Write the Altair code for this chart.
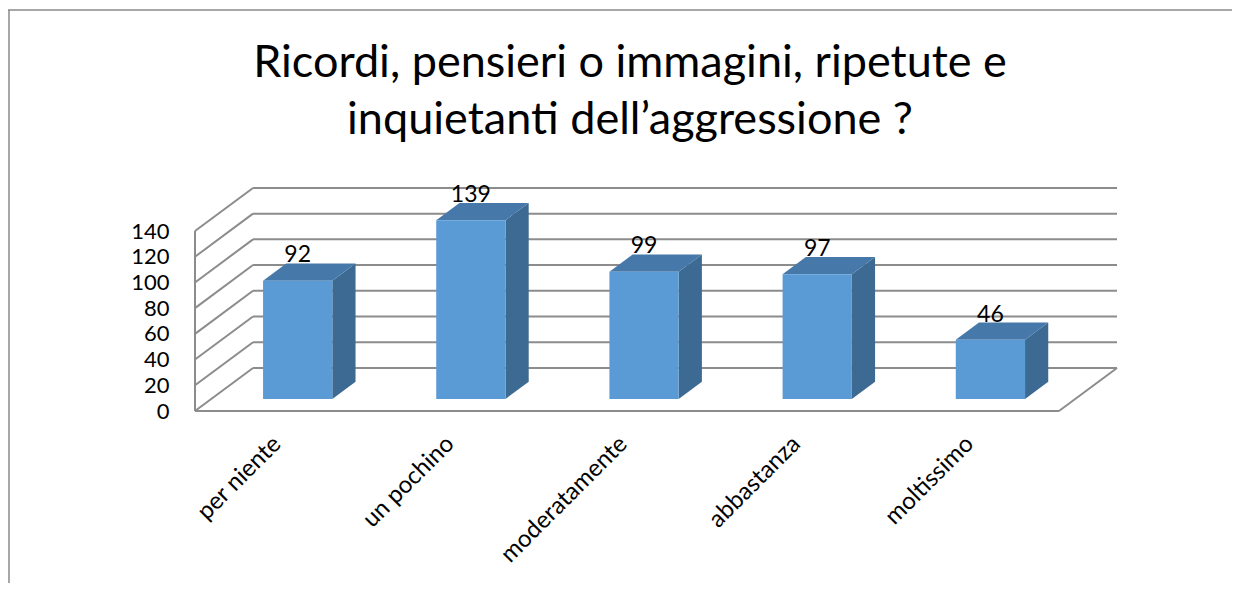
import altair as alt
import pandas as pd

# ---- data ----
categories = ["per niente", "un pochino", "moderatamente", "abbastanza", "moltissimo"]
values = [92, 139, 99, 97, 46]
y_ticks = [0, 20, 40, 60, 80, 100, 120, 140]
title_lines = ["Ricordi, pensieri o immagini, ripetute e", "inquietanti dell\u2019aggressione ?"]

# ---- 3D geometry (style parameters, in data units) ----
FONT = "Lato"
half_w = 0.2          # half width of bar front face (category units)
bar_lift = 9.4        # bar front face sits a bit behind the front plane
dep_x, dep_y = 0.134, 13.4   # depth of the bars
wall_x, wall_y = 0.335, 33.5 # depth of the back wall
x_lo, x_hi_front = -0.593, 4.396
x_hi_back = x_hi_front + wall_x

FRONT = "#5B9BD5"
SIDE = "#3D6A92"
TOP = "#4679A9"
GRID = "#8C8C8C"

idx = list(range(len(categories)))

front = pd.DataFrame({
    "cat": categories,
    "x": [i - half_w for i in idx],
    "x2": [i + half_w for i in idx],
    "y": [bar_lift] * len(idx),
    "y2": [v + bar_lift for v in values],
})

side_rows, top_rows = [], []
for i, (c, v) in enumerate(zip(categories, values)):
    side_rows.append({"cat": c, "x": i + half_w, "y": bar_lift, "y2": v + bar_lift})
    side_rows.append({"cat": c, "x": i + half_w + dep_x, "y": bar_lift + dep_y, "y2": v + bar_lift + dep_y})
    top_rows.append({"cat": c, "y": v + bar_lift, "x": i - half_w, "x2": i + half_w})
    top_rows.append({"cat": c, "y": v + bar_lift + dep_y, "x": i - half_w + dep_x, "x2": i + half_w + dep_x})
side = pd.DataFrame(side_rows)
top = pd.DataFrame(top_rows)

labels = pd.DataFrame({
    "cat": categories,
    "x": idx,
    "y": [v + bar_lift + dep_y for v in values],
    "label": [str(v) for v in values],
})

back_grid = pd.DataFrame({"x": [x_lo + wall_x] * len(y_ticks), "x2": [x_hi_back] * len(y_ticks),
                          "y": [t + wall_y for t in y_ticks]})
left_wall = pd.DataFrame({"x": [x_lo] * len(y_ticks), "x2": [x_lo + wall_x] * len(y_ticks),
                          "y": y_ticks, "y2": [t + wall_y for t in y_ticks]})
frame = pd.DataFrame({
    "x": [x_lo, x_lo, x_hi_front],
    "x2": [x_lo, x_hi_front, x_hi_back],
    "y": [0, 0, 0],
    "y2": [y_ticks[-1], 0, wall_y],
})

xs = alt.Scale(domain=[x_lo, x_hi_back], nice=False, zero=False)
ys = alt.Scale(domain=[0, 175], nice=False, zero=False)

label_expr = "[" + ",".join("'" + c + "'" for c in categories) + "][datum.value]"

x_axis = alt.Axis(
    values=idx, labelExpr=label_expr, labelAngle=315, labelAlign="right", labelBaseline="middle",
    labelFont=FONT, labelFontSize=24, labelColor="black", labelPadding=29, labelOffset=-21,
    labelOverlap=False, labelFlush=False,
    domain=False, ticks=False, grid=False, title=None)
y_axis = alt.Axis(
    values=y_ticks, labelFont=FONT, labelFontSize=22, labelColor="black", labelPadding=26,
    labelOverlap=False, labelFlush=False, labelBound=False,
    domain=False, ticks=False, grid=False, title=None)


def X(f="x:Q"):
    return alt.X(f, scale=xs, axis=x_axis)


def Y(f="y:Q"):
    return alt.Y(f, scale=ys, axis=y_axis)


grid_layer = alt.Chart(back_grid).mark_rule(color=GRID, strokeWidth=2).encode(
    x=X(), x2="x2:Q", y=Y())
left_layer = alt.Chart(left_wall).mark_rule(color=GRID, strokeWidth=2).encode(
    x=X(), x2="x2:Q", y=Y(), y2="y2:Q")
frame_layer = alt.Chart(frame).mark_rule(color=GRID, strokeWidth=2).encode(
    x=X(), x2="x2:Q", y=Y(), y2="y2:Q")

side_layer = alt.Chart(side).mark_area(color=SIDE, orient="vertical").encode(
    x=X(), y=Y(), y2="y2:Q", detail="cat:N")
top_layer = alt.Chart(top).mark_area(color=TOP, orient="horizontal").encode(
    y=Y(), x=X(), x2="x2:Q", detail="cat:N")
front_layer = alt.Chart(front).mark_rect(color=FRONT).encode(
    x=X(), x2="x2:Q", y=Y(), y2="y2:Q")

text_layer = alt.Chart(labels).mark_text(font=FONT, fontSize=23, color="black",
                                         baseline="bottom", dy=4).encode(
    x=X(), y=Y(), text="label:N")

# title as two text lines (placed above the plot area)
title_df = pd.DataFrame({"line": title_lines, "row": [0, 1]})
title_l1 = alt.Chart(title_df).transform_filter("datum.row == 0").mark_text(
    font=FONT, fontSize=45, color="black", align="center", baseline="alphabetic").encode(
    x=alt.value(435), y=alt.value(-109), text="line:N")
title_l2 = alt.Chart(title_df).transform_filter("datum.row == 1").mark_text(
    font=FONT, fontSize=45, color="black", align="center", baseline="alphabetic").encode(
    x=alt.value(435), y=alt.value(-52), text="line:N")

# chart border (decoration)
border = pd.DataFrame({"k": ["top", "left"]})
border_top = alt.Chart(border).transform_filter("datum.k == 'top'").mark_rule(
    color="#8A8A8A", strokeWidth=1.5).encode(
    x=alt.value(-187), x2=alt.value(1100), y=alt.value(-176))
border_left = alt.Chart(border).transform_filter("datum.k == 'left'").mark_rule(
    color="#8A8A8A", strokeWidth=1.5).encode(
    x=alt.value(-186), y=alt.value(-176), y2=alt.value(420))

chart = alt.layer(
    grid_layer, left_layer, frame_layer, side_layer, top_layer, front_layer, text_layer,
    title_l1, title_l2, border_top, border_left,
).properties(
    width=922, height=225,
    autosize=alt.AutoSizeParams(type="none"),
    padding={"left": 187, "top": 178, "right": 115, "bottom": 172},
).configure_view(stroke=None)

chart.save("out.html", embed_options={"renderer": "svg", "actions": False})
